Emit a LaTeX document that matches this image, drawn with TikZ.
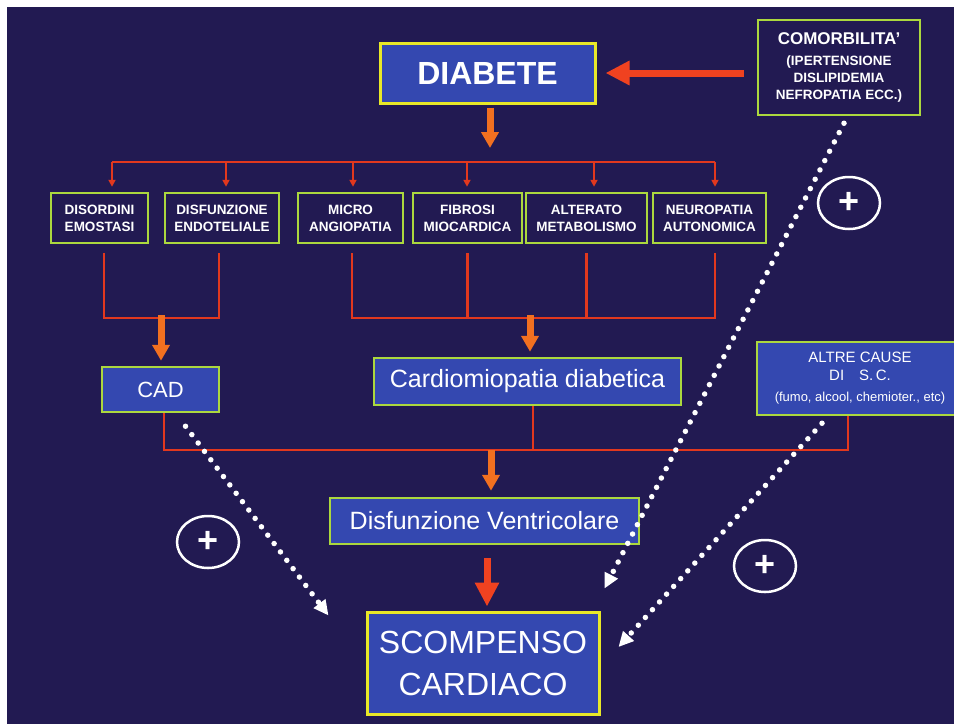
\documentclass[tikz,border=0pt]{standalone}
\usepackage{fontspec}
\setmainfont{Liberation Sans}
\usetikzlibrary{arrows.meta,shapes.geometric}

\definecolor{bgnavy}{RGB}{34,26,82}
\definecolor{boxblue}{RGB}{52,72,176}
\definecolor{yellowedge}{RGB}{232,232,40}
\definecolor{limeedge}{RGB}{172,216,62}
\definecolor{wirered}{RGB}{226,56,30}
\definecolor{fatorange}{RGB}{242,112,32}
\definecolor{fatred}{RGB}{240,66,32}

\tikzset{
  bluebox/.style={draw=limeedge, line width=2.5pt, fill=boxblue, text=white,
    inner sep=0pt, align=center},
  mainbox/.style={bluebox, draw=yellowedge, line width=3pt},
  darkbox/.style={draw=limeedge, line width=2.5pt, fill=bgnavy, text=white,
    inner sep=0pt, align=center, font=\bfseries\fontsize{13.5}{17}\selectfont},
  wire/.style={draw=wirered, line width=2.5pt},
  drop/.style={wire, -{Triangle[length=7pt,width=7pt]}},
  orangearrow/.style={draw=fatorange, line width=7pt,
    -{Triangle[length=16pt,width=17pt]}},
  redarrow/.style={draw=fatred, line width=7pt,
    -{Triangle[length=24pt,width=23pt]}},
  dotarrow/.style={draw=white, line width=5.5pt, line cap=round,
    dash pattern=on 0pt off 10.5pt, -{Triangle[length=15pt,width=14pt]}},
  plusmark/.style={ellipse, draw=white, line width=2.5pt, minimum width=62pt,
    minimum height=52pt, inner sep=0pt, text=white,
    font=\bfseries\fontsize{36}{36}\selectfont},
}

\begin{document}
\begin{tikzpicture}[x=1pt,y=-1pt]
  % page area and backdrop
  \clip (0,0) rectangle (954,724);
  \fill[white] (0,0) rectangle (954,724);
  \fill[bgnavy] (7,7) rectangle (954,724);

  % top row
  \node[mainbox, minimum width=215pt, minimum height=60pt,
        font=\bfseries\fontsize{32}{32}\selectfont] (diab) at (487.5,73) {DIABETE};
  \node[darkbox, minimum width=162pt, minimum height=95pt] (comorb) at (839,67.5)
    {{\fontsize{17}{17}\selectfont COMORBILITA'}\\[4pt]
     (IPERTENSIONE\\DISLIPIDEMIA\\NEFROPATIA ECC.)};

  % six contributing factors
  \node[darkbox, minimum width=97pt,  minimum height=50pt] (b1) at (99.5,218)  {DISORDINI\\EMOSTASI};
  \node[darkbox, minimum width=114pt, minimum height=50pt] (b2) at (222,218)   {DISFUNZIONE\\ENDOTELIALE};
  \node[darkbox, minimum width=105pt, minimum height=50pt] (b3) at (350.5,218) {MICRO\\ANGIOPATIA};
  \node[darkbox, minimum width=109pt, minimum height=50pt] (b4) at (467.5,218) {FIBROSI\\MIOCARDICA};
  \node[darkbox, minimum width=121pt, minimum height=50pt] (b5) at (586.5,218) {ALTERATO\\METABOLISMO};
  \node[darkbox, minimum width=113pt, minimum height=50pt] (b6) at (709.5,218) {NEUROPATIA\\AUTONOMICA};

  % intermediate conditions
  \node[bluebox, minimum width=117pt, minimum height=45pt,
        font=\fontsize{22}{22}\selectfont] (cad) at (160.5,389.5) {CAD};
  \node[bluebox, minimum width=307pt, minimum height=47pt,
        font=\fontsize{25}{25}\selectfont] (cardio) at (527.5,381.5) {Cardiomiopatia diabetica};
  \node[bluebox, minimum width=206pt, minimum height=73pt,
        font=\fontsize{15}{18}\selectfont] (altre) at (860,378.5)
    {ALTRE CAUSE\\DI\quad S.\,C.\\[3pt]
     {\fontsize{13}{13}\selectfont (fumo, alcool, chemioter., etc)}};

  \node[bluebox, minimum width=309pt, minimum height=46pt,
        font=\fontsize{25}{25}\selectfont] (disf) at (484.5,521) {Disfunzione Ventricolare};
  \node[mainbox, minimum width=232pt, minimum height=102pt,
        font=\fontsize{32}{42}\selectfont] (scomp) at (483,663) {SCOMPENSO\\CARDIACO};

  % plus signs
  \node[plusmark] (p1) at (849,203) {+};
  \node[plusmark] (p2) at (208,542) {+};
  \node[plusmark] (p3) at (765,566) {+};

  % comorbidity into diabetes
  \draw[redarrow, shorten <=13pt, shorten >=9pt] (comorb.west |- diab.east) -- (diab.east);

  % diabetes down to the distribution bar
  \coordinate (t1) at (112,162);
  \coordinate (t2) at (226,162);
  \coordinate (t3) at (353,162);
  \coordinate (t4) at (467,162);
  \coordinate (t5) at (594,162);
  \coordinate (t6) at (715,162);
  \draw[orangearrow, shorten <=3pt, shorten >=14pt] ([xshift=2.5pt]diab.south) -- ([xshift=2.5pt]diab.south |- t1);
  \draw[wire] (t1) -- (t6);
  \draw[drop, shorten >=5pt] (t1) -- (t1 |- b1.north);
  \draw[drop, shorten >=5pt] (t2) -- (t2 |- b2.north);
  \draw[drop, shorten >=5pt] (t3) -- (t3 |- b3.north);
  \draw[drop, shorten >=5pt] (t4) -- (t4 |- b4.north);
  \draw[drop, shorten >=5pt] (t5) -- (t5 |- b5.north);
  \draw[drop, shorten >=5pt] (t6) -- (t6 |- b6.north);

  % factors grouped into CAD and cardiomyopathy
  \coordinate (j1) at (161,318);
  \coordinate (j2) at (530,318);
  \draw[wire] ([xshift=4.5pt,yshift=-9pt]b1.south) |- (j1)
              -| ([xshift=-3pt,yshift=-9pt]b2.south);
  \draw[wire] ([xshift=1.5pt,yshift=-9pt]b3.south) |- (j2)
              -| ([xshift=5.5pt,yshift=-9pt]b6.south);
  \coordinate (s4) at ([yshift=-9pt]b4.south);
  \coordinate (s5) at ([yshift=-9pt]b5.south);
  \draw[wire] (s4) -- (s4 |- j2);
  \draw[wire] (s5) -- (s5 |- j2);
  \draw[orangearrow, shorten <=-3pt, shorten >=5pt] (j1) -- (j1 |- cad.north);
  \draw[orangearrow, shorten <=-3pt, shorten >=5pt] (j2) -- (j2 |- cardio.north);

  % merge into ventricular dysfunction
  \coordinate (j3) at (491,450);
  \coordinate (cdrop) at ([xshift=5.5pt]cardio.south);
  \draw[wire] ([xshift=3.5pt]cad.south) |- (j3) -| ([xshift=-12pt]altre.south);
  \draw[wire] (cdrop) -- (cdrop |- j3);
  \draw[orangearrow, shorten >=6pt] (j3) -- (j3 |- disf.north);
  \draw[redarrow, shorten <=13pt, shorten >=4pt] ([xshift=2.5pt]disf.south) -- ([xshift=2.5pt]disf.south |- scomp.north);

  % direct contributions to heart failure
  \coordinate (d1s) at ([xshift=25pt,yshift=-13pt]cad.south);
  \coordinate (d1e) at ([xshift=-37pt,yshift=-5pt]scomp.north west);
  \coordinate (d2s) at ([xshift=5pt,yshift=-7pt]comorb.south);
  \coordinate (d2e) at ([xshift=4pt,yshift=22pt]scomp.north east);
  \coordinate (d3s) at ([xshift=-38pt,yshift=-7pt]altre.south);
  \coordinate (d3e) at ([xshift=18pt,yshift=16pt]scomp.east);
  \draw[dotarrow] (d1s) -- (d1e);
  \draw[dotarrow] (d2s) -- (d2e);
  \draw[dotarrow] (d3s) -- (d3e);
\end{tikzpicture}
\end{document}
